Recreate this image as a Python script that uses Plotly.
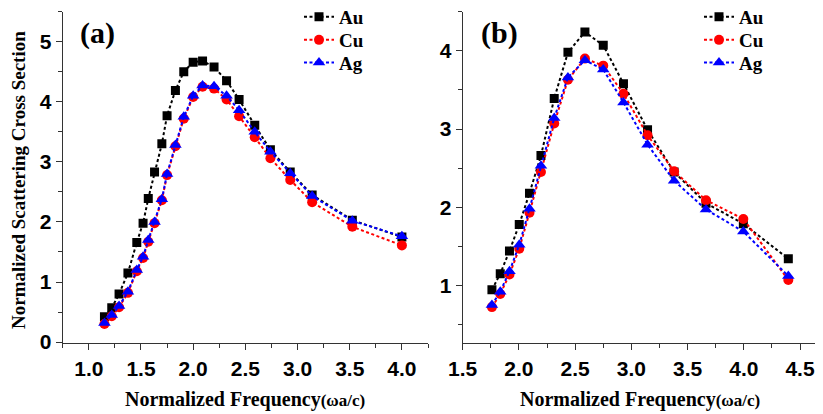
import plotly.graph_objects as go

# ---------------- data ----------------
freq_a = [1.15, 1.22, 1.29, 1.375, 1.46, 1.52, 1.57, 1.63, 1.70, 1.75, 1.83, 1.91,
          2.00, 2.09, 2.20, 2.32, 2.44, 2.59, 2.74, 2.93, 3.14, 3.525, 4.00]
au_a = [0.42, 0.57, 0.80, 1.15, 1.66, 1.98, 2.39, 2.83, 3.30, 3.77, 4.19, 4.50,
        4.66, 4.68, 4.58, 4.35, 4.04, 3.61, 3.20, 2.83, 2.45, 2.03, 1.75]
cu_a = [0.30, 0.43, 0.58, 0.82, 1.18, 1.40, 1.67, 1.98, 2.36, 2.78, 3.26, 3.72,
        4.08, 4.25, 4.22, 4.04, 3.76, 3.41, 3.06, 2.70, 2.33, 1.92, 1.61]
ag_a = [0.32, 0.45, 0.60, 0.84, 1.20, 1.42, 1.70, 2.00, 2.38, 2.80, 3.28, 3.75,
        4.10, 4.27, 4.26, 4.10, 3.86, 3.50, 3.17, 2.81, 2.43, 2.02, 1.76]

freq_b = [1.76, 1.834, 1.916, 2.003, 2.094, 2.196, 2.314, 2.436, 2.587, 2.75,
          2.93, 3.144, 3.38, 3.664, 3.996, 4.396]
au_b = [0.945, 1.15, 1.44, 1.78, 2.18, 2.66, 3.39, 3.98, 4.24, 4.07,
        3.58, 2.99, 2.45, 2.05, 1.79, 1.34]
cu_b = [0.723, 0.89, 1.14, 1.47, 1.93, 2.45, 3.07, 3.63, 3.90, 3.81,
        3.45, 2.92, 2.46, 2.09, 1.85, 1.07]
ag_b = [0.75, 0.92, 1.18, 1.52, 1.98, 2.53, 3.14, 3.66, 3.88, 3.76,
        3.34, 2.80, 2.34, 1.97, 1.69, 1.12]

names = ["Au", "Cu", "Ag"]
colors = ["#000000", "#ff0000", "#0000ff"]
symbols = ["square", "circle", "triangle-up"]
msizes = [9, 10, 11]

xticks_a = [1.0, 1.5, 2.0, 2.5, 3.0, 3.5, 4.0]
yticks_a = [0, 1, 2, 3, 4, 5]
xticks_b = [1.5, 2.0, 2.5, 3.0, 3.5, 4.0, 4.5]
yticks_b = [1, 2, 3, 4]

SERIF = "Liberation Serif, Times New Roman, serif"
SANS = "Liberation Sans, Arial, sans-serif"

# the page body has an 8px default margin: size the figure to fill the rest
OFF = 8
W, H = 823 - OFF, 414 - OFF


def px(X):
    return (X - OFF) / W


def py(Y):
    return 1 - (Y - OFF) / H


# one single-entry legend per row so rows sit where the reference puts them
row_y = [16.8, 40.0, 62.7]
legend_left = {"a": 299, "b": 699}

fig = go.Figure()
legend_ids = []
li = 1
for panel, fx, series, xa, ya in [("a", freq_a, [au_a, cu_a, ag_a], "x", "y"),
                                  ("b", freq_b, [au_b, cu_b, ag_b], "x2", "y2")]:
    for k, (ys, nm, c, s, ms) in enumerate(zip(series, names, colors, symbols, msizes)):
        li += 1
        lid = f"legend{li}"
        legend_ids.append((lid, panel, k))
        fig.add_trace(go.Scatter(x=fx, y=ys, name=nm, mode="lines+markers",
                                 line=dict(color=c, width=2, dash="3px,2.5px"),
                                 marker=dict(symbol=s, size=ms, color=c),
                                 xaxis=xa, yaxis=ya, legend=lid))

tickfont = dict(family=SANS, size=21, color="black", weight="bold")
common = dict(showgrid=False, zeroline=False, showline=True, linecolor="#333333",
              linewidth=1.2, ticks="outside", ticklen=6, tickwidth=1.2,
              tickcolor="#333333", tickfont=tickfont, automargin=False)


def minor(dt, t0):
    return dict(ticks="outside", ticklen=4, tickwidth=1.2, tickcolor="#333333",
                dtick=dt, tick0=t0)


ydom = [py(343.3), py(11.7)]

layout = dict(
    width=W, height=H,
    margin=dict(l=0, r=0, t=0, b=0, autoexpand=False),
    paper_bgcolor="white", plot_bgcolor="white",
    showlegend=True,
    xaxis=dict(domain=[px(62.7), px(428)], range=[0.75, 4.25],
               tickvals=xticks_a, ticktext=[f"{v:.1f}" for v in xticks_a],
               minor=minor(0.25, 0.75), anchor="y", **common),
    yaxis=dict(domain=ydom, range=[-0.02, 5.5], tickvals=yticks_a,
               minor=minor(0.5, 0), anchor="x", **common),
    xaxis2=dict(domain=[px(462.7), px(818)], range=[1.5, 4.66],
                tickvals=xticks_b, ticktext=[f"{v:.1f}" for v in xticks_b],
                minor=minor(0.25, 1.5), anchor="y2", **common),
    yaxis2=dict(domain=ydom, range=[0.26, 4.5], tickvals=yticks_b,
                minor=minor(0.5, 0), anchor="x2", **common),
    annotations=[
        dict(text="<b>(a)</b>", x=px(78), y=py(33), xref="paper", yref="paper",
             xanchor="left", yanchor="middle", showarrow=False,
             font=dict(family=SERIF, size=30, color="black")),
        dict(text="<b>(b)</b>", x=px(479), y=py(33), xref="paper", yref="paper",
             xanchor="left", yanchor="middle", showarrow=False,
             font=dict(family=SERIF, size=30, color="black")),
        dict(text="<b>Normalized Scattering Cross Section</b>", x=px(19), y=py(180),
             xref="paper", yref="paper", xanchor="center", yanchor="middle",
             textangle=-90, showarrow=False,
             font=dict(family=SERIF, size=19, color="black")),
        dict(text="<b>Normalized Frequency<span style='font-size:17px'>(ωa/c)</span></b>",
             x=px(245), y=py(399), xref="paper", yref="paper",
             xanchor="center", yanchor="middle", showarrow=False,
             font=dict(family=SERIF, size=20, color="black")),
        dict(text="<b>Normalized Frequency<span style='font-size:17px'>(ωa/c)</span></b>",
             x=px(640), y=py(399), xref="paper", yref="paper",
             xanchor="center", yanchor="middle", showarrow=False,
             font=dict(family=SERIF, size=20, color="black")),
    ],
)

for lid, panel, k in legend_ids:
    layout[lid] = dict(x=px(legend_left[panel]), y=py(row_y[k]),
                       xanchor="left", yanchor="middle",
                       bgcolor="rgba(0,0,0,0)", itemwidth=30,
                       font=dict(family=SERIF, size=19, color="black", weight="bold"))

fig.update_layout(**layout)
fig.write_html("out.html")
